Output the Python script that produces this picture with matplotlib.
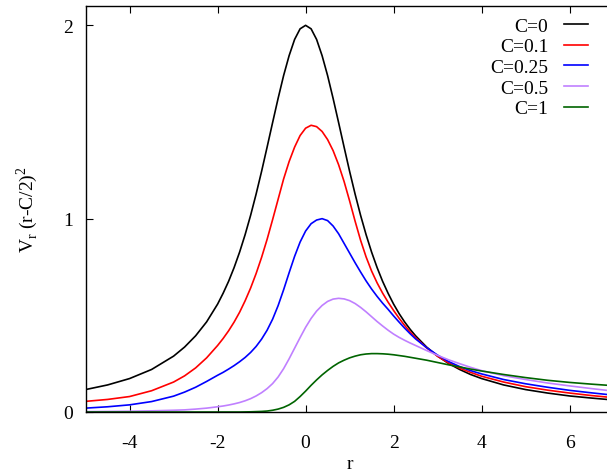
import matplotlib
matplotlib.use("Agg")
import matplotlib.pyplot as plt

plt.rcParams['font.family'] = ['Liberation Serif', 'DejaVu Serif']
plt.rcParams['mathtext.fontset'] = 'custom'
plt.rcParams['mathtext.rm'] = 'Liberation Serif'
plt.rcParams['axes.unicode_minus'] = False

# r grid and curve values
r = [-5, -4.5, -4, -3.5, -3, -2.75, -2.5, -2.25,
     -2, -1.875, -1.75, -1.625, -1.5, -1.375, -1.25, -1.125,
     -1, -0.875, -0.75, -0.625, -0.5, -0.375, -0.25, -0.125,
     0, 0.125, 0.25, 0.375, 0.5, 0.625, 0.75, 0.875,
     1, 1.125, 1.25, 1.375, 1.5, 1.625, 1.75, 1.875,
     2, 2.125, 2.25, 2.375, 2.5, 2.75, 3, 3.25, 3.5, 3.75, 4,
     4.5, 5, 5.5, 6, 6.5, 7]

v_c0 = [0.116, 0.140, 0.173, 0.220, 0.289, 0.336, 0.394, 0.466,
        0.558, 0.614, 0.676, 0.747, 0.827, 0.917, 1.017, 1.127,
        1.245, 1.370, 1.497, 1.622, 1.740, 1.843, 1.927, 1.982,
        2.000, 1.982, 1.927, 1.843, 1.740, 1.622, 1.497, 1.370,
        1.245, 1.127, 1.017, 0.917, 0.827, 0.747, 0.676, 0.614,
        0.558, 0.509, 0.466, 0.428, 0.394, 0.336, 0.289, 0.251, 0.220, 0.194, 0.173,
        0.140, 0.116, 0.098, 0.083, 0.072, 0.062]

v_c01 = [0.055, 0.065, 0.080, 0.110, 0.155, 0.187, 0.228, 0.280,
         0.344, 0.380, 0.420, 0.465, 0.516, 0.575, 0.641, 0.716,
         0.800, 0.893, 0.995, 1.100, 1.205, 1.295, 1.370, 1.430,
         1.468, 1.483, 1.476, 1.451, 1.409, 1.352, 1.279, 1.192,
         1.092, 0.987, 0.888, 0.802, 0.729, 0.668, 0.615, 0.568,
         0.525, 0.485, 0.448, 0.414, 0.384, 0.332, 0.288, 0.254, 0.227, 0.205, 0.185,
         0.155, 0.131, 0.113, 0.098, 0.085, 0.074]

v_c025 = [0.020, 0.027, 0.037, 0.054, 0.082, 0.103, 0.128, 0.158,
          0.190, 0.205, 0.222, 0.240, 0.260, 0.282, 0.308, 0.339,
          0.377, 0.423, 0.480, 0.550, 0.632, 0.720, 0.805, 0.879,
          0.936, 0.974, 0.993, 1.000, 0.990, 0.962, 0.922, 0.872,
          0.822, 0.772, 0.724, 0.678, 0.636, 0.598, 0.563, 0.531,
          0.497, 0.465, 0.434, 0.405, 0.378, 0.333, 0.294, 0.261, 0.235, 0.214, 0.197,
          0.168, 0.146, 0.128, 0.112, 0.099, 0.087]

v_c05 = [0.002, 0.003, 0.004, 0.006, 0.009, 0.011, 0.015, 0.020,
         0.027, 0.031, 0.036, 0.042, 0.049, 0.058, 0.069, 0.083,
         0.100, 0.121, 0.147, 0.181, 0.224, 0.275, 0.330, 0.385,
         0.438, 0.484, 0.522, 0.551, 0.572, 0.584, 0.588, 0.585,
         0.576, 0.561, 0.541, 0.518, 0.493, 0.468, 0.445, 0.423,
         0.403, 0.386, 0.371, 0.357, 0.344, 0.318, 0.293, 0.270, 0.250, 0.231, 0.214,
         0.188, 0.168, 0.150, 0.135, 0.121, 0.108]

v_c1 = [0, 0, 0, 0, 0, 0, 0, 0,
        0, 0, 0, 0, 0, 0.0005, 0.001, 0.002,
        0.003, 0.005, 0.009, 0.015, 0.024, 0.037, 0.055, 0.080,
        0.108, 0.138, 0.166, 0.192, 0.215, 0.236, 0.254, 0.268,
        0.280, 0.289, 0.296, 0.300, 0.302, 0.302, 0.301, 0.299,
        0.296, 0.292, 0.288, 0.283, 0.278, 0.268, 0.256, 0.244, 0.233, 0.222, 0.212,
        0.194, 0.178, 0.164, 0.153, 0.144, 0.136]

labels = ['C=0', 'C=0.1', 'C=0.25', 'C=0.5', 'C=1']
colors = ['black', '#ff0000', '#0000ff', '#c080ff', '#006400']
series = [v_c0, v_c01, v_c025, v_c05, v_c1]

fig = plt.figure(figsize=(6.07, 4.77), dpi=100)
# right border sits just past the image edge, as in the reference
ax = fig.add_axes([85.6 / 607, 64 / 477, 528 / 607, 406 / 477])

for vals, lab, col in zip(series, labels, colors):
    ax.plot(r, vals, color=col, lw=1.2, label=lab)

ax.set_xlim(-5, 7)
ax.set_ylim(0, 2.1)
ax.set_xticks([-4, -2, 0, 2, 4, 6])
ax.set_yticks([0, 1, 2])
ax.tick_params(direction='in', length=5, width=0.8, labelsize=14,
               top=True, right=True)
ax.tick_params(axis='x', pad=16)
ax.tick_params(axis='y', pad=9)
for s in ax.spines.values():
    s.set_linewidth(1.0)

ax.set_xlabel('r', fontsize=14, labelpad=3)
ax.set_ylabel(r'V$_{\rm r}$ (r-C/2)$^{\rm 2}$', fontsize=14, labelpad=17)

fig.legend(loc='upper right', bbox_to_anchor=(588 / 607, 1 - 18 / 477),
           frameon=False, markerfirst=False, fontsize=14,
           handlelength=1.25, handletextpad=0.8, labelspacing=0.16,
           borderpad=0, borderaxespad=0)

fig.savefig('out.png', dpi=100)
